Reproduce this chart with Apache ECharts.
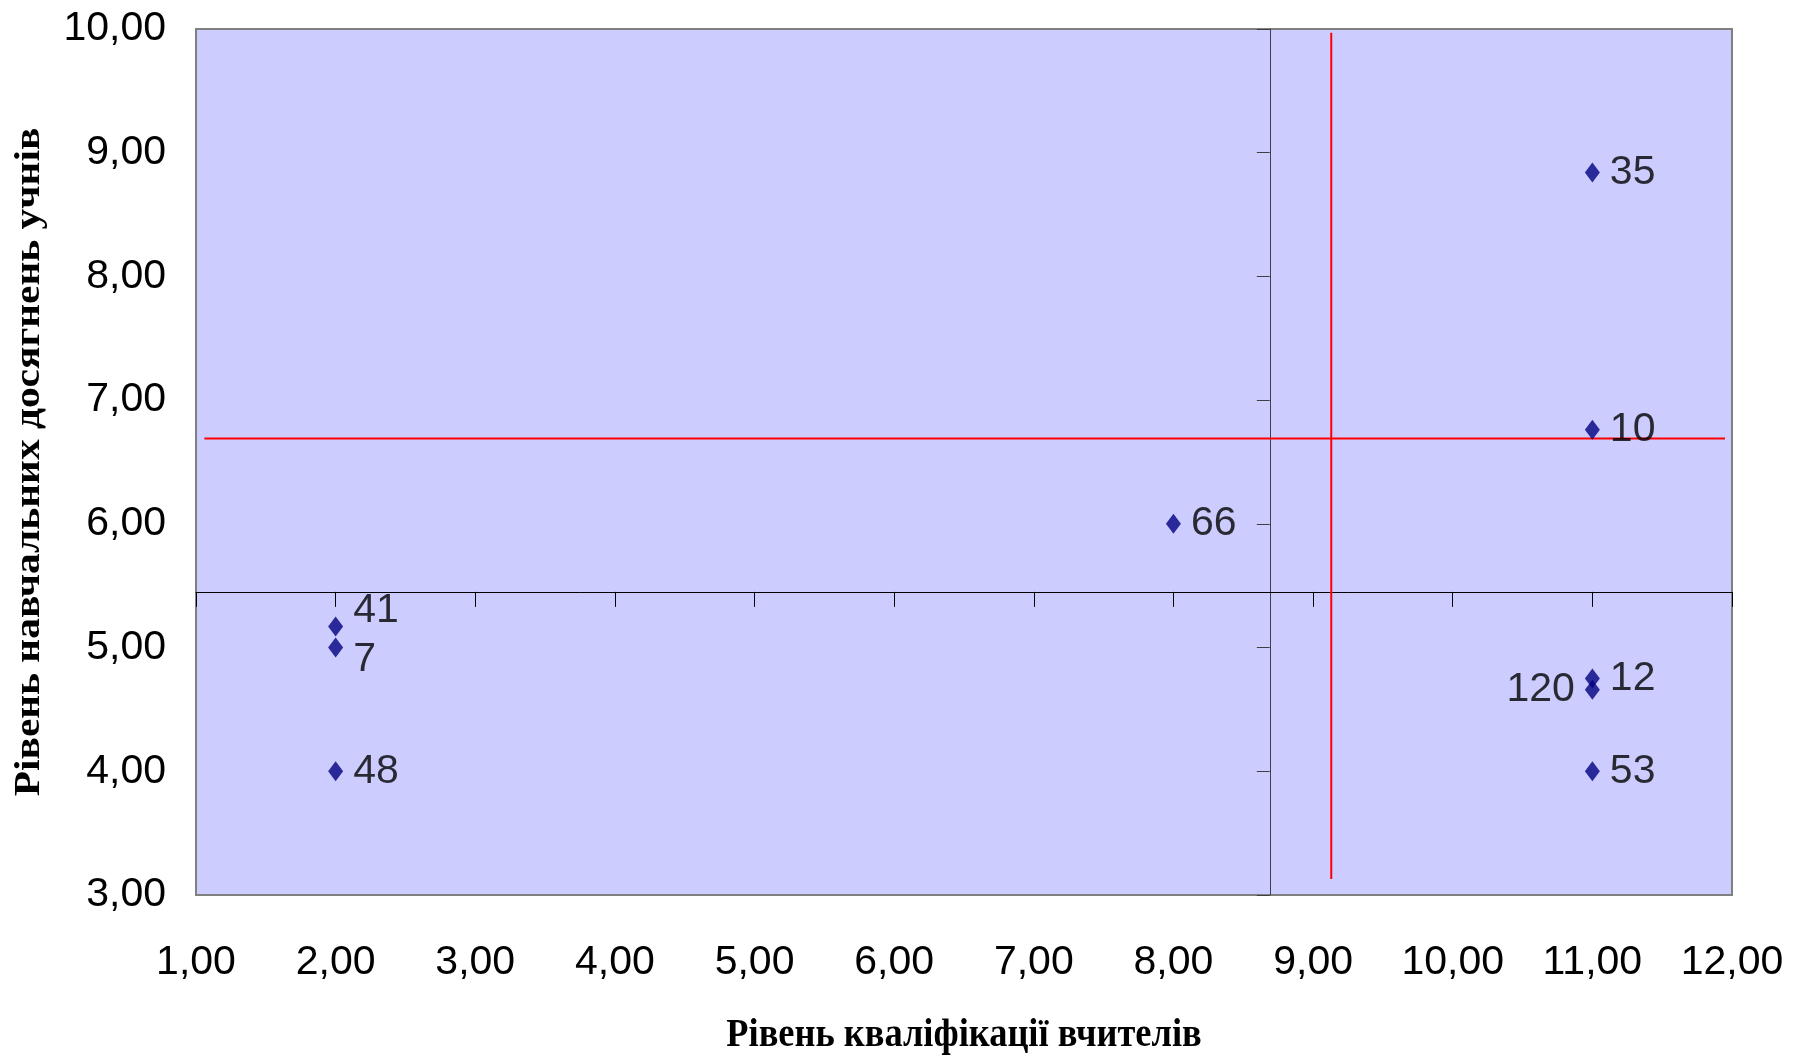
<!DOCTYPE html>
<html>
<head>
<meta charset="utf-8">
<script src="https://cdn.jsdelivr.net/npm/echarts@6/dist/echarts.min.js"></script>
<style>
html,body{margin:0;padding:0;background:#fff;}
#chart{width:1804px;height:1060px;}
</style>
</head>
<body>
<div id="chart"></div>
<script>
// ---- data ----
const pointLabels = ['41', '7', '48', '66', '35', '10', '12', '120', '53'];
const xValues = [2, 2, 2, 8, 11, 11, 11, 11, 11];
const yValues = [5.17, 5.00, 4.00, 6.00, 8.84, 6.76, 4.75, 4.66, 4.00];
// red reference lines
const hLineX = [1.06, 11.95];
const hLineY = 6.69;
const vLineX = 9.13;
const vLineY = [3.13, 9.97];
// where the axes cross
const yAxisCrossX = 8.69;
const xAxisCrossY = 5.45;
// axis ranges
const xMin = 1, xMax = 12, xStep = 1;
const yMin = 3, yMax = 10, yStep = 1;
const xTitle = 'Рівень кваліфікації вчителів';
const yTitle = 'Рівень навчальних досягнень учнів';

// ---- styles ----
const sans = "'Liberation Sans',Arial,sans-serif";
const serif = "'Liberation Serif','Times New Roman',serif";
const labelStyle = {
  '41': {offset: [0, -16]},
  '7': {offset: [0, 12]},
  '120': {position: 'left'}
};
const fmt = v => v.toFixed(2).replace('.', ',');

const G = {left: 196, right: 72, top: 29, bottom: 165};

const chart = echarts.init(document.getElementById('chart'), null, {renderer: 'canvas'});

const scatterData = xValues.map((x, i) => {
  const d = {value: [x, yValues[i]], name: pointLabels[i]};
  const s = labelStyle[pointLabels[i]];
  if (s) d.label = Object.assign({}, s);
  return d;
});

function buildOption(cross) {
  return {
    animation: false,
    backgroundColor: '#ffffff',
    grid: [
      Object.assign({show: true, backgroundColor: '#CCCCFF', borderColor: '#808080', borderWidth: 2, z: 0}, G),
      {left: G.left, right: G.right, top: G.top, height: cross ? cross[1] - G.top : 100, show: false},
      {left: cross ? cross[0] : 800, right: G.right, top: G.top, bottom: G.bottom, show: false}
    ],
    xAxis: [
      {
        gridIndex: 0, type: 'value', min: xMin, max: xMax, interval: xStep,
        axisLine: {show: false}, axisTick: {show: false}, splitLine: {show: false},
        axisLabel: {formatter: fmt, fontFamily: sans, fontSize: 41, color: '#000', margin: 47}
      },
      {
        gridIndex: 1, type: 'value', min: xMin, max: xMax, interval: xStep, position: 'bottom',
        axisLine: {show: true, lineStyle: {color: '#000', width: 1}},
        axisTick: {show: true, length: 15, inside: false, lineStyle: {color: '#000', width: 1}},
        splitLine: {show: false}, axisLabel: {show: false}
      },
      {
        gridIndex: 2, type: 'value', min: yAxisCrossX, max: xMax, show: false
      }
    ],
    yAxis: [
      {
        gridIndex: 0, type: 'value', min: yMin, max: yMax, interval: yStep,
        axisLine: {show: false}, axisTick: {show: false}, splitLine: {show: false},
        axisLabel: {formatter: fmt, fontFamily: sans, fontSize: 41, color: '#000', margin: 30}
      },
      {
        gridIndex: 1, type: 'value', min: xAxisCrossY, max: yMax, show: false
      },
      {
        gridIndex: 2, type: 'value', min: yMin, max: yMax, interval: yStep, position: 'left',
        axisLine: {show: true, lineStyle: {color: '#404040', width: 1}},
        axisTick: {show: true, length: 13, inside: false, lineStyle: {color: '#404040', width: 1}},
        splitLine: {show: false}, axisLabel: {show: false}
      }
    ],
    series: [
      {
        type: 'line', xAxisIndex: 0, yAxisIndex: 0, z: 5,
        data: hLineX.map(x => [x, hLineY]),
        symbol: 'none', lineStyle: {color: '#FF0000', width: 2}, silent: true
      },
      {
        type: 'line', xAxisIndex: 0, yAxisIndex: 0, z: 5,
        data: vLineY.map(y => [vLineX, y]),
        symbol: 'none', lineStyle: {color: '#FF0000', width: 2}, silent: true
      },
      {
        type: 'scatter', xAxisIndex: 0, yAxisIndex: 0, z: 6,
        symbol: 'diamond', symbolSize: [15, 20],
        itemStyle: {color: '#000080'},
        data: scatterData,
        label: {
          show: true, position: 'right', distance: 10,
          formatter: p => p.name,
          fontFamily: sans, fontSize: 41, color: '#000'
        }
      }
    ],
    graphic: [
      {
        type: 'text', x: 964, y: 1036, scaleX: 0.91,
        style: {text: xTitle, font: 'bold 40px ' + serif, fill: '#000', align: 'center', verticalAlign: 'middle'}
      },
      {
        type: 'text', x: 30, y: 462, rotation: Math.PI / 2, scaleX: 1.15,
        style: {text: yTitle, font: 'bold 36px ' + serif, fill: '#000', align: 'center', verticalAlign: 'middle'}
      }
    ]
  };
}

chart.setOption(buildOption(null));
const cross = chart.convertToPixel({gridIndex: 0}, [yAxisCrossX, xAxisCrossY]);
chart.setOption(buildOption(cross), true);
</script>
</body>
</html>
